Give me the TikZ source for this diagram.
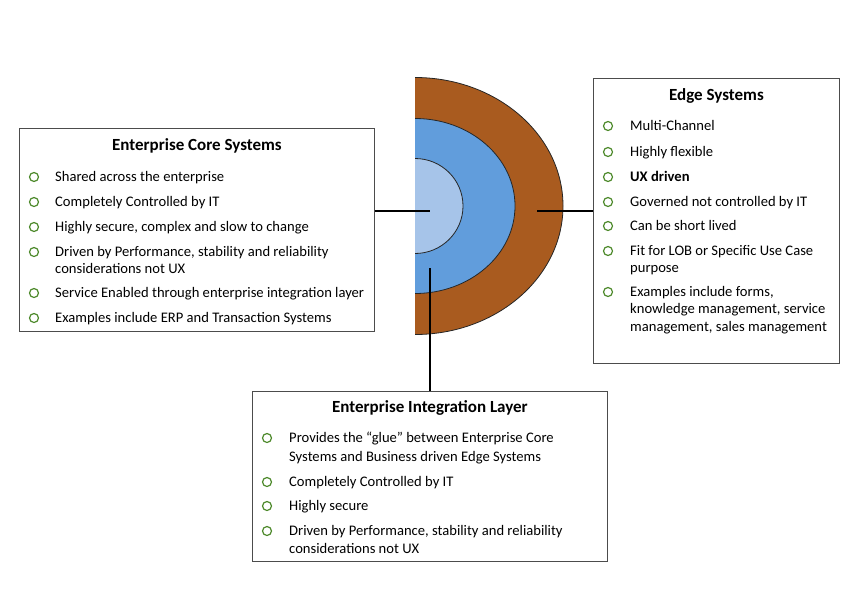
\documentclass[tikz,border=0pt]{standalone}
\usepackage{fontspec}
\setmainfont{Carlito}
\definecolor{rust}{HTML}{A95B1F}
\definecolor{midblue}{HTML}{619DDC}
\definecolor{paleblue}{HTML}{A6C4E9}
\definecolor{dotgreen}{HTML}{4E8A2C}
\tikzset{
  panel/.style={draw=black!70, line width=0.9pt, anchor=north west, inner sep=0pt},
  heading/.style={anchor=base, inner sep=0pt, font=\fontsize{17}{20}\selectfont\bfseries},
  item/.style={anchor=base west, inner sep=0pt, font=\fontsize{14.6}{17}\selectfont},
  dot/.style={circle, draw=dotgreen, line width=1.2pt, minimum size=9pt, inner sep=0pt},
  link/.style={line width=2.5pt}
}
\begin{document}
\begin{tikzpicture}[x=1pt, y=-1pt]
  \useasboundingbox (0,0) rectangle (858,610);
  % half rings
  \begin{scope}
    \clip (415,0) rectangle (858,610);
    \filldraw[fill=rust, draw=black!85, line width=0.8pt] (415,206) ellipse [x radius=148, y radius=128.5];
    \filldraw[fill=midblue, draw=black!85, line width=0.8pt] (415,206) ellipse [x radius=100, y radius=87.5];
    \filldraw[fill=paleblue, draw=black!85, line width=0.8pt] (415,206) ellipse [x radius=48, y radius=47.5];
  \end{scope}
  \coordinate (core-end) at (430,211);
  \coordinate (edge-end) at (537,211);
  \coordinate (layer-end) at (430,268);

  % panels
  \node[panel, minimum width=355pt, minimum height=203pt] (core) at (19,128) {};
  \node[panel, minimum width=246pt, minimum height=285pt] (edge) at (593,78) {};
  \node[panel, minimum width=355pt, minimum height=170pt] (layer) at (252,391) {};

  \node[heading] (core-title) at ([yshift=-22pt]core.north) {Enterprise Core Systems};
  \node[heading] (edge-title) at ([yshift=-22pt]edge.north) {Edge Systems};
  \node[heading] (layer-title) at ([yshift=-21pt]layer.north) {Enterprise Integration Layer};

  % core items
  \foreach \n/\y/\t in {1/181/{Shared across the enterprise},
                        2/206/{Completely Controlled by IT},
                        3/231/{Highly secure, complex and slow to change},
                        4/256/{Driven by Performance, stability and reliability},
                        5/273/{considerations not UX},
                        6/297/{Service Enabled through enterprise integration layer},
                        7/322/{Examples include ERP and Transaction Systems}}
    \node[item] (core-\n) at (55,\y) {\t};
  \foreach \y in {177,202,227,252,293,318}
    \node[dot] (core-dot-\y) at (34,\y) {};

  % edge items
  \foreach \n/\y/\t in {1/130/{Multi-Channel},
                        2/156/{Highly flexible},
                        3/181/{\bfseries UX driven},
                        4/206/{Governed not controlled by IT},
                        5/230/{Can be short lived},
                        6/255/{Fit for LOB or Specific Use Case},
                        7/272/{purpose},
                        8/296/{Examples include forms,},
                        9/313/{knowledge management, service},
                        10/331/{management, sales management}}
    \node[item] (edge-\n) at (630,\y) {\t};
  \foreach \y in {126,152,177,202,226,251,292}
    \node[dot] (edge-dot-\y) at (608,\y) {};

  % integration items
  \foreach \n/\y/\t in {1/442/{Provides the “glue” between Enterprise Core},
                        2/461/{Systems and Business driven Edge Systems},
                        3/486/{Completely Controlled by IT},
                        4/510/{Highly secure},
                        5/535/{Driven by Performance, stability and reliability},
                        6/553/{considerations not UX}}
    \node[item] (layer-\n) at (289,\y) {\t};
  \foreach \y in {438,482,506,531}
    \node[dot] (layer-dot-\y) at (267,\y) {};

  % links
  \begin{scope}[link]
    \draw (core.east |- core-end) -- (core-end);
    \draw (edge-end) -- (edge.west |- edge-end);
    \draw (layer-end) -- (layer.north -| layer-end);
  \end{scope}
\end{tikzpicture}
\end{document}
